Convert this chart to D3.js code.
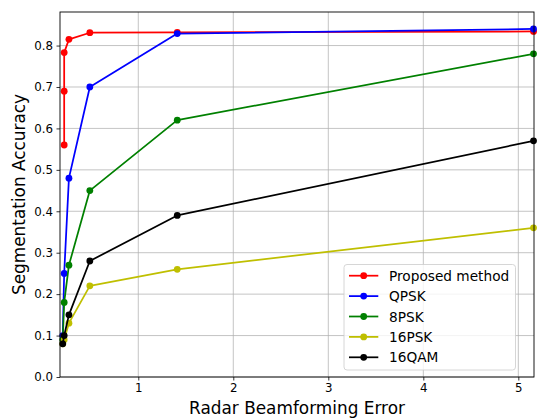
<!DOCTYPE html>
<html><head><meta charset="utf-8">
<script src="https://cdn.jsdelivr.net/npm/d3@7"></script>
<style>body{margin:0;background:#fff}svg{display:block}text{font-family:"DejaVu Sans",sans-serif}</style>
</head><body><svg id="c" width="537" height="418"></svg>
<script>
const seriesNames = ["Proposed method","QPSK","8PSK","16PSK","16QAM"];
const seriesColors = ["#ff0000","#0000ff","#008000","#bfbf00","#000000"];
const xProposed = [0.22,0.22,0.22,0.27,0.49,1.41,5.16];
const yProposed = [0.56,0.69,0.783,0.815,0.831,0.832,0.834];
const xOthers = [0.205,0.22,0.27,0.49,1.41,5.16];
const yQPSK = [0.10,0.25,0.48,0.70,0.829,0.84];
const y8PSK = [0.09,0.18,0.27,0.45,0.62,0.78];
const y16PSK = [0.08,0.09,0.13,0.22,0.26,0.36];
const y16QAM = [0.08,0.10,0.15,0.28,0.39,0.57];
const xTicks = [1,2,3,4,5];
const yTicks = [0,0.1,0.2,0.3,0.4,0.5,0.6,0.7,0.8];

const seriesX = [xProposed,xOthers,xOthers,xOthers,xOthers];
const seriesY = [yProposed,yQPSK,y8PSK,y16PSK,y16QAM];

const L=60,R=534,T=12,B=377;
const x=d3.scaleLinear().domain([0.176,5.165]).range([L,R]);
const y=d3.scaleLinear().domain([0,0.881]).range([B,T]);
const svg=d3.select("#c");

// grid
svg.append("g").selectAll("line").data(xTicks).join("line")
 .attr("x1",d=>x(d)).attr("x2",d=>x(d)).attr("y1",T).attr("y2",B)
 .attr("stroke","#b0b0b0").attr("stroke-opacity",0.75).attr("stroke-width",1);
svg.append("g").selectAll("line").data(yTicks).join("line")
 .attr("x1",L).attr("x2",R).attr("y1",d=>y(d)).attr("y2",d=>y(d))
 .attr("stroke","#b0b0b0").attr("stroke-opacity",0.75).attr("stroke-width",1);

// series
const line=d3.line().x(d=>x(d[0])).y(d=>y(d[1]));
seriesNames.forEach((n,i)=>{
  const pts=seriesX[i].map((v,j)=>[v,seriesY[i][j]]);
  const g=svg.append("g");
  g.append("path").attr("d",line(pts)).attr("fill","none").attr("stroke",seriesColors[i]).attr("stroke-width",1.75).attr("stroke-linejoin","round");
  g.selectAll("circle").data(pts).join("circle").attr("cx",d=>x(d[0])).attr("cy",d=>y(d[1])).attr("r",3.4).attr("fill",seriesColors[i]);
});

// axes
const xa=svg.append("g").attr("transform",`translate(0,${B})`).call(d3.axisBottom(x).tickValues(xTicks).tickFormat(d3.format("d")).tickSize(3.5).tickPadding(3.5));
const ya=svg.append("g").attr("transform",`translate(${L},0)`).call(d3.axisLeft(y).tickValues(yTicks).tickFormat(d3.format(".1f")).tickSize(3.5).tickPadding(3.5));
[xa,ya].forEach(a=>{a.select(".domain").remove();a.selectAll("text").attr("font-size",11.8).attr("fill","#000").attr("font-family","DejaVu Sans");a.selectAll("line").attr("stroke","#000").attr("stroke-width",0.8);});
svg.append("rect").attr("x",L).attr("y",T).attr("width",R-L).attr("height",B-T).attr("fill","none").attr("stroke","#000").attr("stroke-width",0.9);

svg.append("text").attr("x",(L+R)/2).attr("y",414).attr("text-anchor","middle").attr("font-size",16.9).text("Radar Beamforming Error");
svg.append("text").attr("transform",`translate(25,${(T+B)/2}) rotate(-90)`).attr("text-anchor","middle").attr("font-size",16.9).text("Segmentation Accuracy");

// legend
const lg=svg.append("g");
lg.append("rect").attr("x",344).attr("y",264.5).attr("width",171.5).attr("height",105.5).attr("rx",3).attr("fill","#fff").attr("fill-opacity",0.8).attr("stroke","#cccccc").attr("stroke-width",0.8);
seriesNames.forEach((n,i)=>{
  const yy=275.7+i*20.4;
  lg.append("line").attr("x1",349).attr("x2",378.3).attr("y1",yy).attr("y2",yy).attr("stroke",seriesColors[i]).attr("stroke-width",1.75);
  lg.append("circle").attr("cx",363.7).attr("cy",yy).attr("r",3.4).attr("fill",seriesColors[i]);
  lg.append("text").attr("x",389).attr("y",yy+5).attr("font-size",13.7).text(n);
});
</script></body></html>
